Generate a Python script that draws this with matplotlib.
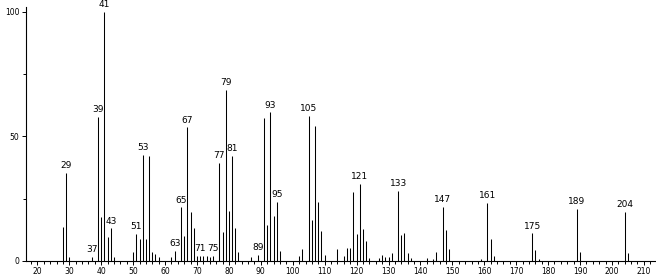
import matplotlib
matplotlib.use("Agg")
import matplotlib.pyplot as plt
from matplotlib.ticker import MultipleLocator

mz = [28, 29, 30, 37, 39, 40, 41, 42, 43, 44,
      50, 51, 52, 53, 54, 55, 56, 57, 58,
      62, 63, 65, 66, 67, 68, 69, 70, 71, 72, 73, 74, 75,
      77, 78, 79, 80, 81, 82, 83, 87, 89,
      91, 92, 93, 94, 95, 96, 102, 103,
      105, 106, 107, 108, 109, 110, 114, 116, 117, 118,
      119, 120, 121, 122, 123, 124, 127, 128, 129, 130, 131,
      133, 134, 135, 136, 137, 142, 144, 145, 147, 148, 149,
      159, 161, 162, 163, 175, 176, 177, 189, 190, 204, 205]
intensity = [13.5, 35.4, 1.5, 1.6, 57.9, 17.5, 100, 9.7, 13.1, 1.8,
             3.8, 10.8, 9.0, 42.7, 9.0, 42.0, 3.8, 3.0, 1.7,
             1.8, 3.9, 21.5, 10.1, 53.6, 19.6, 13.3, 1.9, 2.2, 1.9, 1.9, 1.7, 1.9,
             39.2, 11.8, 68.5, 20.2, 42.2, 13.3, 3.8, 1.5, 2.6,
             57.2, 14.5, 59.6, 18.1, 23.6, 4.0, 2.0, 4.7,
             58.1, 16.5, 54.0, 23.8, 12.0, 2.4, 5.0, 2.0, 5.4, 5.4,
             27.7, 10.7, 30.8, 12.7, 8.0, 1.1, 1.1, 2.3, 1.4, 1.4, 3.4,
             28.1, 10.5, 11.3, 3.4, 1.1, 1.1, 0.8, 3.8, 21.8, 12.3, 5.0,
             0.8, 23.2, 8.7, 2.1, 11.1, 4.3, 0.7, 20.9, 3.5, 19.7, 3.1]
labeled = [29, 37, 39, 41, 43, 51, 53, 63, 65, 67, 71, 75, 77, 79, 81, 89,
           93, 95, 105, 121, 133, 147, 161, 175, 189, 204]
x_ticks = [20, 30, 40, 50, 60, 70, 80, 90, 100, 110, 120, 130, 140, 150,
           160, 170, 180, 190, 200, 210]
y_ticks = [0, 50, 100]

fig = plt.figure(figsize=(6.56, 2.77), dpi=100)
ax = fig.add_axes([0.039, 0.0578, 0.961, 0.918])
ax.vlines(mz, 0, intensity, colors="black", linewidth=0.75)

lookup = dict(zip(mz, intensity))
for m in labeled:
    ax.annotate(str(m), (m, lookup[m]), xytext=(0, 2), textcoords="offset points",
                ha="center", va="bottom", fontsize=6.5, color="black")

ax.set_xlim(16.3, 213.8)
ax.set_ylim(0, 102)
ax.set_xticks(x_ticks)
ax.xaxis.set_minor_locator(MultipleLocator(2))
ax.set_yticks(y_ticks)
ax.yaxis.set_minor_locator(MultipleLocator(25))
ax.tick_params(axis="both", which="major", labelsize=5.5, length=3, width=0.7, pad=1.5)
ax.tick_params(axis="both", which="minor", length=2, width=0.7)
for s in ["top", "right"]:
    ax.spines[s].set_visible(False)
for s in ["left", "bottom"]:
    ax.spines[s].set_linewidth(0.8)

fig.savefig("out.png", dpi=100)
